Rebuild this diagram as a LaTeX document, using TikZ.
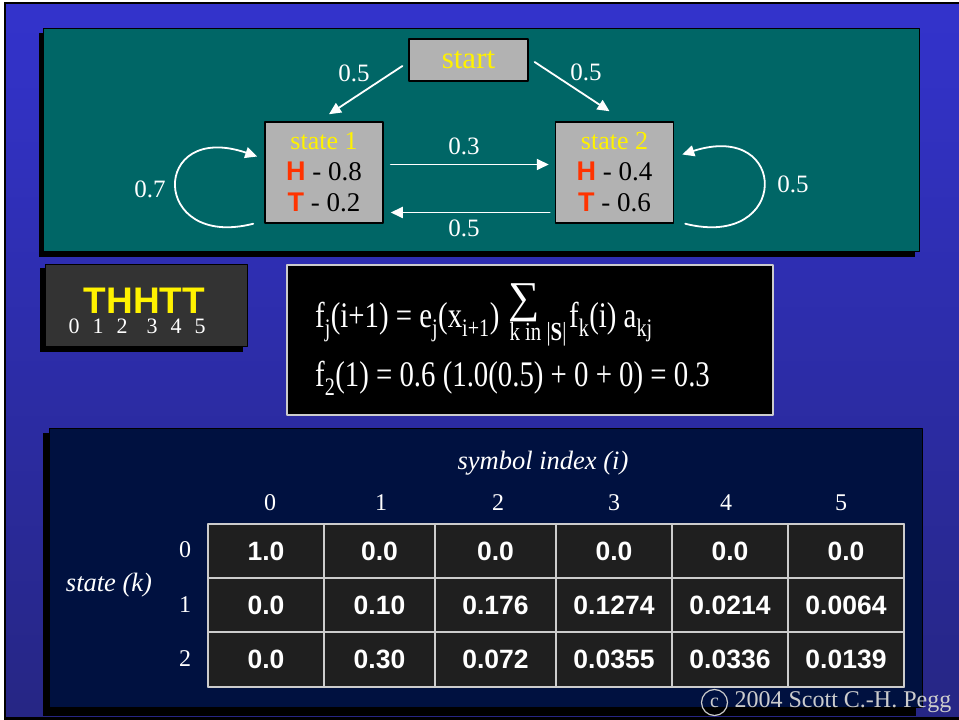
\documentclass[tikz,border=0pt]{standalone}
\usepackage{fontspec}
\setmainfont{Liberation Serif}
\setsansfont{Liberation Sans}
\newfontfamily\condfont[FakeStretch=0.8]{Liberation Serif}
\usetikzlibrary{arrows.meta,positioning}
\definecolor{slidetop}{RGB}{51,51,204}
\definecolor{slidebot}{RGB}{38,38,132}
\definecolor{panelteal}{RGB}{0,102,102}
\definecolor{panelnavy}{RGB}{0,17,64}
\definecolor{boxgray}{RGB}{178,178,178}
\definecolor{seqgray}{RGB}{51,51,51}
\definecolor{cellgray}{RGB}{31,31,31}
\definecolor{gridgray}{RGB}{204,204,204}
\definecolor{hred}{RGB}{255,51,0}
\newcommand{\setsz}[1]{\fontsize{#1}{#1}\selectfont}
\newcommand{\hsym}[1]{{\color{hred}\sffamily\bfseries #1}}
\begin{document}
\begin{tikzpicture}[x=1pt,y=1pt,line join=round,line cap=round,>={Triangle[length=12pt,width=11pt]},
	flow/.style={->,white,line width=1.8pt},
	prob/.style={text=white,font=\setsz{25}},
	startbox/.style={draw=black,line width=1.2pt,fill=boxgray,text=yellow,minimum width=119,minimum height=42,inner sep=0pt,font=\setsz{31}},
	statebox/.style={draw=black,line width=1.5pt,fill=boxgray,minimum width=118,minimum height=101,inner sep=0pt,align=center,font=\fontsize{27}{31}\selectfont},
	formula/.style={text=white,inner sep=0pt,font=\condfont\setsz{36}},
	idx/.style={text=white,font=\setsz{24}},
	axislab/.style={text=white,font=\itshape\setsz{26.5}},
	cell/.style={text=white,font=\sffamily\bfseries\setsz{26.5}}]
	\useasboundingbox (0,0) rectangle (959,720);
	% slide
	\fill[white] (0,0) rectangle (959,720);
	\fill[black] (4,0) rectangle (959,718);
	\shade[top color=slidetop,bottom color=slidebot] (6,3) rectangle (959,715);
	% model panel
	\fill[black] (39,463) rectangle (915,687);
	\draw[fill=panelteal,draw=black,thin] (43,469) rectangle (919,692);
	\node[startbox] (start) at (468.5,660) {start};
	\node[statebox] (s1) at (324,547.5) {{\color{yellow}\setsz{26}state 1}\\ \hsym{H} - 0.8\\ \hsym{T} - 0.2};
	\node[statebox] (s2) at (614.5,547.5) {{\color{yellow}\setsz{26}state 2}\\ \hsym{H} - 0.4\\ \hsym{T} - 0.6};
	\draw[flow] ([shift={(-6,-6)}]start.west) -- ([shift={(5,7)}]s1.north);
	\draw[flow] ([shift={(6,-2)}]start.east) -- ([shift={(-5,10)}]s2.north);
	\draw[flow] ([shift={(7,8)}]s1.east) -- ([shift={(-6,8)}]s2.west);
	\draw[flow] ([shift={(-5,-40)}]s2.west) -- ([shift={(7,-40)}]s1.east);
	\draw[flow] ([xshift=-11]s1.south west) .. controls (150,470) and (150,600) .. ([shift={(-7,16)}]s1.west);
	\draw[flow] ([xshift=11]s2.south east) .. controls (790,470) and (790,600) .. ([shift={(8,18)}]s2.east);
	\node[prob] (pa) at (354,646.5) {0.5};
	\node[prob] (pb) at (586,648) {0.5};
	\node[prob] (pc) at (464,574) {0.3};
	\node[prob] (pd) at (464,492) {0.5};
	\node[prob] (pe) at (150,531) {0.7};
	\node[prob] (pf) at (793,536) {0.5};
	% observed sequence
	\fill[black] (40,368) rectangle (243,452);
	\draw[fill=seqgray,draw=black,thin] (45,374) rectangle (247,456);
	\node[anchor=base,text=yellow,font=\sffamily\bfseries\setsz{37}] (seq) at (144.5,406) {THHTT};
	\foreach \i/\x in {0/74,1/98,2/122,3/152,4/176,5/200}
		\node[anchor=base,text=white,font=\setsz{22}] (d\i) at (\x,386) {\i};
	% recursion
	\draw[fill=black,draw=gridgray,line width=1.2pt] (287,305) rectangle (773,455);
	\node[formula,anchor=base west] (fone) at (315,392)
		{f\textsubscript{j}(i+1) = e\textsubscript{j}(x\textsubscript{i+1})};
	\node[formula,font=\setsz{44}] (sumsign) at (524,417.5) {∑};
	\node[formula,anchor=base,font=\condfont\setsz{26}] (sumsub) at (538,379) {k in |\textbf{S}|};
	\node[formula,anchor=base west] (ftwo) at (569,392) {f\textsubscript{k}(i) a\textsubscript{kj}};
	\node[formula,anchor=base west] (fthree) at (315,333)
		{f\textsubscript{2}(1) = 0.6 (1.0(0.5) + 0 + 0) = 0.3};
	% forward table
	\fill[black] (43,4) rectangle (916,287);
	\draw[fill=panelnavy,draw=black,thin] (49,13) rectangle (922,292);
	\node[axislab] (symlab) at (543,257) {symbol index (i)};
	\node[axislab] (statelab) at (109,135) {state (k)};
	\fill[cellgray] (208,33) rectangle (904,196);
	\foreach \x in {208,324,435,556,672,788,904}
		\draw[gridgray,line width=1.5pt] (\x,33) -- (\x,196);
	\foreach \y in {33,88,142,196}
		\draw[gridgray,line width=1.5pt] (208,\y) -- (904,\y);
	\foreach \c/\x in {0/270,1/381,2/498,3/614,4/726,5/841}
		\node[idx] (col\c) at (\x,217) {\c};
	\foreach \r/\y in {0/170,1/115,2/61}
		\node[idx] (row\r) at (185,\y) {\r};
	\foreach \row [count=\r from 0] in {{1.0,0.0,0.0,0.0,0.0,0.0},{0.0,0.10,0.176,0.1274,0.0214,0.0064},{0.0,0.30,0.072,0.0355,0.0336,0.0139}}
		\foreach \v [count=\c from 0] in \row {
			\pgfmathsetmacro\xx{{266,379.5,495.5,614,730,846}[\c]}
			\pgfmathsetmacro\yy{169-54.25*\r}
			\node[cell] (v\r\c) at (\xx,\yy) {\v};
		}
	% credit
	\node[circle,draw=gridgray,line width=1.2pt,minimum size=26,inner sep=0pt,text=gridgray,font=\setsz{20}] (cmark) at (714.5,17.5) {c};
	\node[text=gridgray,font=\setsz{24},right=3pt of cmark] (copy) {2004 Scott C.-H. Pegg};
\end{tikzpicture}
\end{document}
